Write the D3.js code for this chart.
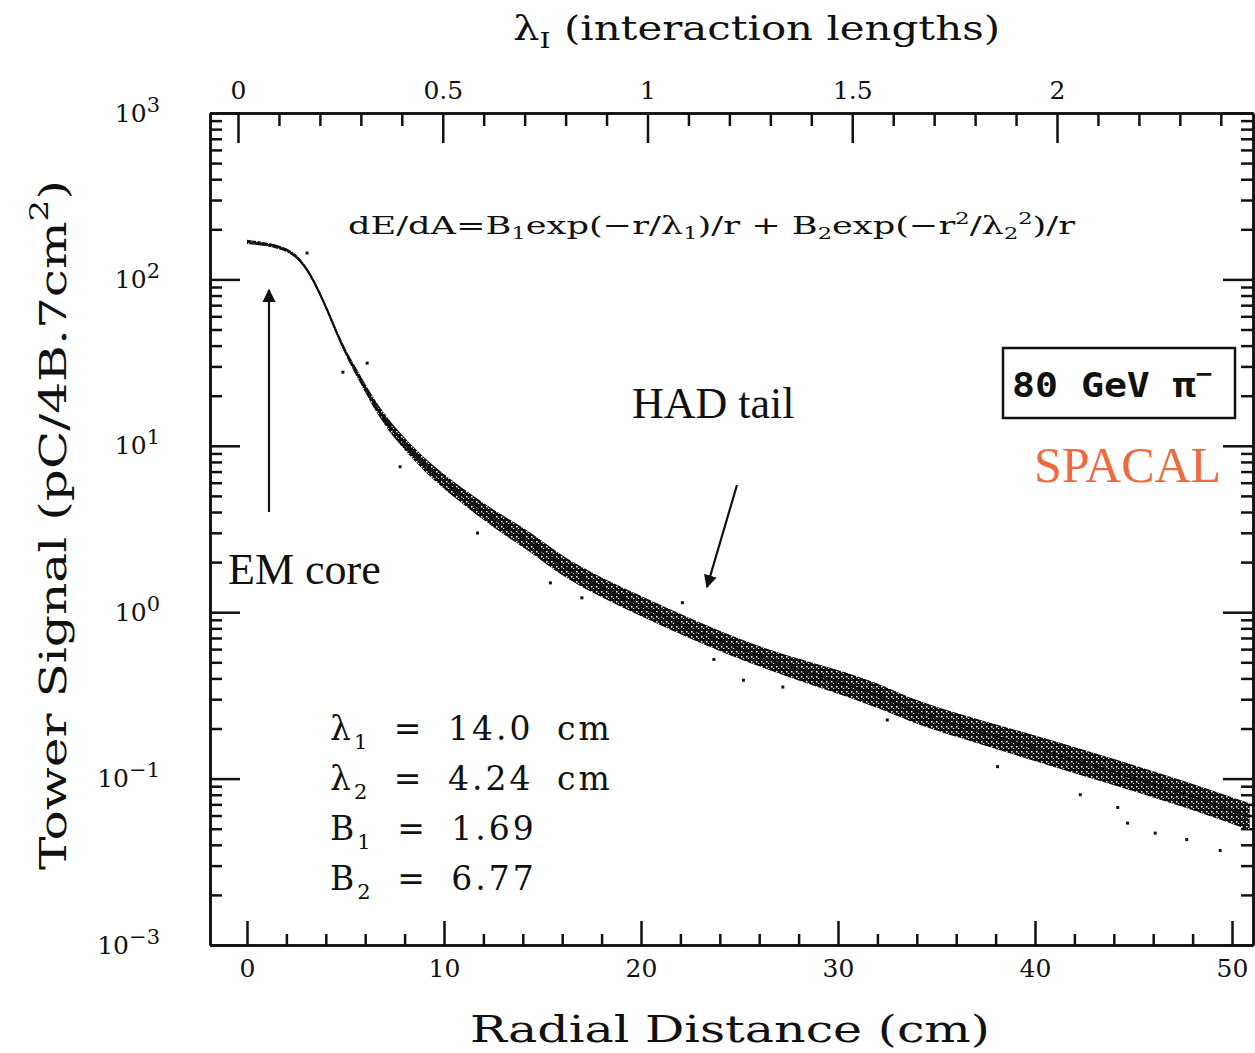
<!DOCTYPE html>
<meta charset="utf-8">
<script src="https://d3js.org/d3.v7.min.js"></script>
<style>
  body { margin: 0; background: #fff; }
  .axis path, .axis line { stroke: #111; stroke-width: 2.5; }
  .axis text { font-family: "DejaVu Serif", serif; font-size: 25px; fill: #111; }
</style>
<svg id="chart" width="1255" height="1053"></svg>
<script>
// shower profile (radius in cm, tower signal in pC)
const radius   = [0, 2.2, 3.2, 4.1, 4.9, 5.7, 6.6, 7.8, 9.4, 11.2, 12.8, 14.5, 16.2, 19.6, 23.0, 26.4, 29.8, 32.3, 34.0, 37.4, 40.8, 44.2, 47.5, 50.9];
const signal   = [168, 157, 111, 65, 37.7, 25.9, 16.4, 10.8, 6.87, 4.73, 3.44, 2.61, 1.79, 1.14, 0.75, 0.516, 0.391, 0.309, 0.248, 0.188, 0.143, 0.108, 0.082, 0.059];
const signalLo = [163, 153, 108, 63, 36.2, 24.5, 15.3, 9.9, 6.23, 4.23, 3.04, 2.27, 1.56, 0.99, 0.65, 0.45, 0.33, 0.26, 0.21, 0.159, 0.119, 0.090, 0.068, 0.049];
const signalHi = [173, 161, 114, 67, 39.3, 27.4, 17.6, 11.7, 7.57, 5.28, 3.90, 3.00, 2.05, 1.31, 0.86, 0.59, 0.46, 0.365, 0.29, 0.222, 0.171, 0.129, 0.098, 0.071];

// stray points away from the band
const strayR = [3.05, 4.87, 6.1, 7.77, 11.7, 15.4, 17.0, 22.1, 23.7, 25.2, 27.2, 32.5, 38.1, 42.3, 44.2, 44.7, 46.1, 47.7, 49.4];
const strayS = [144, 27.7, 31.4, 7.48, 2.99, 1.50, 1.22, 1.14, 0.52, 0.39, 0.355, 0.225, 0.118, 0.080, 0.067, 0.054, 0.047, 0.043, 0.037];

const xTicks = [0, 10, 20, 30, 40, 50];
const xMinor = [2, 4, 6, 8, 12, 14, 16, 18, 22, 24, 26, 28, 32, 34, 36, 38, 42, 44, 46, 48];
const yTicks = [1e3, 1e2, 1e1, 1e0, 1e-1, 1e-2];
const yTickExp = ["3", "2", "1", "0", "−1", "−3"];
const lambdaTicks = [0, 0.5, 1, 1.5, 2];
const lambdaLabels = ["0", "0.5", "1", "1.5", "2"];
const lambdaMinor = [0.1, 0.2, 0.3, 0.4, 0.6, 0.7, 0.8, 0.9, 1.1, 1.2, 1.3, 1.4, 1.6, 1.7, 1.8, 1.9, 2.1, 2.2, 2.3, 2.4];

const paramNames = ["λ", "λ", "B", "B"];
const paramSubs  = ["1", "2", "1", "2"];
const paramVals  = ["= 14.0 cm", "= 4.24 cm", "= 1.69", "= 6.77"];

const svg = d3.select("#chart");
const plotL = 210, plotR = 1253, plotT = 113, plotB = 945;

const x = d3.scaleLinear().domain([(plotL - 247) / 19.7, (plotR - 247) / 19.7]).range([plotL, plotR]);
const y = d3.scaleLog().domain([1e-2, 1e3]).range([plotB, plotT]);
const lam = d3.scaleLinear().domain([(plotL - 238) / 409.5, (plotR - 238) / 409.5]).range([plotL, plotR]);

const yMinor = [];
yTicks.slice(1).forEach(function(d) { for (let k = 2; k <= 9; k++) yMinor.push(d * k); });

const defs = svg.append("defs");
// speckle pattern for the dense data band
const pat = defs.append("pattern")
  .attr("id", "speckle").attr("width", 5).attr("height", 5)
  .attr("patternUnits", "userSpaceOnUse");
pat.append("rect").attr("width", 5).attr("height", 5).attr("fill", "#111");
pat.append("rect").attr("x", 1).attr("y", 1).attr("width", 1.5).attr("height", 1.5).attr("fill", "#fff");
pat.append("rect").attr("x", 3).attr("y", 3).attr("width", 1.2).attr("height", 1).attr("fill", "#fff");

// axes
svg.append("g").attr("class", "axis")
  .attr("transform", "translate(0," + plotB + ")")
  .call(d3.axisBottom(x).tickValues(xTicks).tickSize(-24).tickSizeOuter(0).tickPadding(14));
svg.append("g").attr("class", "axis")
  .attr("transform", "translate(0," + plotB + ")")
  .call(d3.axisBottom(x).tickValues(xMinor).tickSize(-11).tickSizeOuter(0).tickFormat(""));

svg.append("g").attr("class", "axis")
  .attr("transform", "translate(0," + plotT + ")")
  .call(d3.axisTop(lam).tickValues(lambdaTicks).tickSize(-30).tickSizeOuter(0).tickPadding(14)
    .tickFormat(function(d, i) { return lambdaLabels[i]; }));
svg.append("g").attr("class", "axis")
  .attr("transform", "translate(0," + plotT + ")")
  .call(d3.axisTop(lam).tickValues(lambdaMinor).tickSize(-13).tickSizeOuter(0).tickFormat(""));

svg.append("g").attr("class", "axis")
  .attr("transform", "translate(" + plotL + ",0)")
  .call(d3.axisLeft(y).tickValues(yTicks).tickSize(-30).tickSizeOuter(0).tickPadding(50))
  .call(function(g) {
    g.selectAll(".tick text")
      .attr("font-size", "24px")
      .html(function(d, i) { return '10<tspan font-size="21px" dy="-10">' + yTickExp[i] + '</tspan>'; });
  });
svg.append("g").attr("class", "axis")
  .attr("transform", "translate(" + plotL + ",0)")
  .call(d3.axisLeft(y).tickValues(yMinor).tickSize(-12).tickSizeOuter(0).tickFormat(""));

svg.append("g").attr("class", "axis")
  .attr("transform", "translate(" + plotR + ",0)")
  .call(d3.axisRight(y).tickValues(yTicks).tickSize(-30).tickSizeOuter(0).tickFormat(""));
svg.append("g").attr("class", "axis")
  .attr("transform", "translate(" + plotR + ",0)")
  .call(d3.axisRight(y).tickValues(yMinor).tickSize(-12).tickSizeOuter(0).tickFormat(""));

// data band
const band = radius.map(function(r, i) { return { r: r, s: signal[i], lo: signalLo[i], hi: signalHi[i] }; });
svg.append("path")
  .datum(band)
  .attr("fill", "url(#speckle)")
  .attr("d", d3.area().x(function(d) { return x(d.r); })
    .y0(function(d) { return y(d.lo); }).y1(function(d) { return y(d.hi); })
    .curve(d3.curveBasis));
svg.append("path")
  .datum(band)
  .attr("fill", "none").attr("stroke", "#111").attr("stroke-width", 2)
  .attr("d", d3.line().x(function(d) { return x(d.r); }).y(function(d) { return y(d.s); })
    .curve(d3.curveBasis));

svg.append("g").selectAll("rect")
  .data(strayR)
  .enter().append("rect")
  .attr("x", function(d) { return x(d) - 1.5; })
  .attr("y", function(d, i) { return y(strayS[i]) - 1.5; })
  .attr("width", 3).attr("height", 3)
  .attr("fill", "#111");

// arrows
const mk = defs.append("marker")
  .attr("id", "head").attr("viewBox", "0 0 10 10").attr("refX", 9).attr("refY", 5)
  .attr("markerWidth", 6).attr("markerHeight", 6).attr("orient", "auto");
mk.append("path").attr("d", "M0,0L10,5L0,10z").attr("fill", "#111");

svg.append("line").attr("x1", 269).attr("y1", 512).attr("x2", 269).attr("y2", 290)
  .attr("stroke", "#111").attr("stroke-width", 2.2).attr("marker-end", "url(#head)");
svg.append("line").attr("x1", 737).attr("y1", 485).attr("x2", 707).attr("y2", 587)
  .attr("stroke", "#111").attr("stroke-width", 2.2).attr("marker-end", "url(#head)");

// axis titles
svg.append("text")
  .attr("x", 513).attr("y", 40)
  .style("font-family", "DejaVu Serif, serif").style("font-size", "33px").style("fill", "#111")
  .attr("textLength", 487).attr("lengthAdjust", "spacingAndGlyphs")
  .html('λ<tspan font-size="22px" dy="8">I</tspan><tspan dy="-8"> (interaction lengths)</tspan>');

svg.append("text")
  .attr("x", 730).attr("y", 1042).attr("text-anchor", "middle")
  .style("font-family", "DejaVu Serif, serif").style("font-size", "38px").style("fill", "#111")
  .attr("textLength", 520).attr("lengthAdjust", "spacingAndGlyphs")
  .text("Radial Distance (cm)");

svg.append("text")
  .attr("transform", "translate(66,870) rotate(-90)")
  .style("font-family", "DejaVu Serif, serif").style("font-size", "38px").style("fill", "#111")
  .attr("textLength", 690).attr("lengthAdjust", "spacingAndGlyphs")
  .html('Tower Signal (pC/4B.7cm<tspan font-size="26px" dy="-18">2</tspan><tspan dy="18">)</tspan>');

// formula and parameters
svg.append("text")
  .attr("x", 348).attr("y", 234)
  .style("font-family", "DejaVu Serif, serif").style("font-size", "25px").style("fill", "#111")
  .attr("textLength", 727).attr("lengthAdjust", "spacingAndGlyphs")
  .html('dE/dA=B<tspan font-size="16px" dy="5">1</tspan><tspan dy="-5">exp(−r/λ</tspan><tspan font-size="16px" dy="5">1</tspan><tspan dy="-5">)/r + B</tspan><tspan font-size="16px" dy="5">2</tspan><tspan dy="-5">exp(−r</tspan><tspan font-size="16px" dy="-10">2</tspan><tspan dy="10">/λ</tspan><tspan font-size="16px" dy="5">2</tspan><tspan font-size="16px" dy="-15">2</tspan><tspan dy="10">)/r</tspan>');

const params = svg.append("g");
paramNames.forEach(function(n, i) {
  params.append("text")
    .attr("x", 330).attr("y", 740 + i * 50)
    .style("font-family", "DejaVu Serif, serif").style("font-size", "33px").style("fill", "#111")
    .style("letter-spacing", "3px").style("word-spacing", "10px")
    .html(n + '<tspan font-size="21px" dy="9">' + paramSubs[i] + '</tspan><tspan dy="-9"> ' + paramVals[i] + '</tspan>');
});

// labels
svg.append("text").attr("x", 228).attr("y", 584)
  .style("font-family", "Liberation Serif, serif").style("font-size", "44px").style("fill", "#111")
  .text("EM core");
svg.append("text").attr("x", 632).attr("y", 418)
  .style("font-family", "Liberation Serif, serif").style("font-size", "44px").style("fill", "#111")
  .text("HAD tail");
svg.append("text").attr("x", 1034).attr("y", 482)
  .style("font-family", "Liberation Serif, serif").style("font-size", "50px").style("fill", "#ef6a3e")
  .text("SPACAL");

svg.append("rect").attr("x", 1003).attr("y", 348).attr("width", 232).attr("height", 70)
  .attr("fill", "#fff").attr("stroke", "#111").attr("stroke-width", 2.5);
svg.append("text").attr("x", 1012).attr("y", 397)
  .style("font-family", "DejaVu Sans Mono, monospace").style("font-size", "34px").style("font-weight", "bold").style("fill", "#111")
  .attr("textLength", 200).attr("lengthAdjust", "spacingAndGlyphs")
  .html('80 GeV π<tspan font-size="24px" dy="-15">−</tspan>');
</script>
